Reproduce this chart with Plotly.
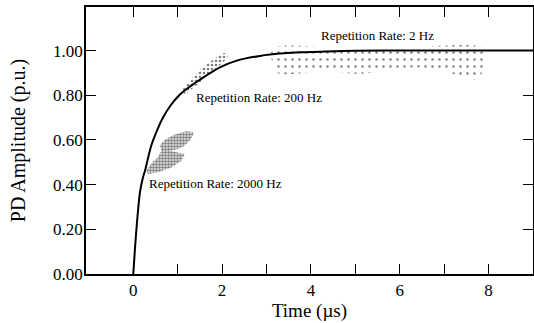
import plotly.graph_objects as go

# Fitted response curve
curve_t = [0, 0.045, 0.106, 0.15, 0.218, 0.265, 0.405, 0.55, 0.669, 0.83, 1.05, 1.2, 1.58, 1.95, 2.33, 2.85, 3.08, 3.75, 4.35, 5.0, 6.0, 7.0, 8.0, 9.0]
curve_y = [0, 0.134, 0.283, 0.365, 0.433, 0.463, 0.575, 0.65, 0.700, 0.752, 0.803, 0.828, 0.880, 0.925, 0.955, 0.976, 0.982, 0.992, 0.996, 0.999, 1.0, 1.0, 1.0, 1.0]

# 2000 Hz scatter region outline
r2000_t = [1.367, 1.306, 1.158, 1.007, 0.820, 1.007, 1.158, 1.081, 0.856, 0.556, 0.331, 0.293, 0.405, 0.556, 0.631, 0.595, 0.707, 0.932, 1.194, 1.367]
r2000_y = [0.634, 0.605, 0.575, 0.560, 0.552, 0.545, 0.537, 0.507, 0.477, 0.455, 0.448, 0.463, 0.493, 0.522, 0.552, 0.575, 0.600, 0.624, 0.639, 0.634]

# 200 Hz scatter region outline
r200_t = [2.104, 2.117, 1.802, 1.502, 1.277, 1.164, 1.113, 1.277, 1.577, 1.878, 2.027, 2.104]
r200_y = [0.988, 0.970, 0.910, 0.858, 0.821, 0.806, 0.821, 0.866, 0.925, 0.970, 0.988, 0.988]

# 2 Hz scatter region outline
r2_t = [3.146, 4.43, 6.007, 7.92, 7.92, 7.76, 7.40, 7.02, 6.23, 5.10, 4.36, 3.24, 3.13, 3.146]
r2_y = [1.008, 1.015, 1.013, 1.009, 0.956, 0.875, 0.879, 0.910, 0.924, 0.896, 0.910, 0.901, 0.946, 1.008]

labels = ["Repetition Rate: 2 Hz", "Repetition Rate: 200 Hz", "Repetition Rate: 2000 Hz"]
label_t = [5.49, 2.83, 1.85]
label_y = [1.067, 0.79, 0.404]

x_ticks = [0, 1, 2, 3, 4, 5, 6, 7, 8]
x_ticktext = ["0", "", "2", "", "4", "", "6", "", "8"]
y_ticks = [0, 0.2, 0.4, 0.6, 0.8, 1.0]

FONT = "Liberation Serif"

fig = go.Figure()

fig.add_trace(go.Scatter(
    x=r2_t, y=r2_y, mode="lines", fill="toself", line=dict(width=0, color="rgba(0,0,0,0)"),
    line_shape="spline",
    fillpattern=dict(shape=".", fgcolor="#000", bgcolor="white", size=7, solidity=0.1),
    hoverinfo="skip", showlegend=False))

fig.add_trace(go.Scatter(
    x=r200_t, y=r200_y, mode="lines", fill="toself", line=dict(width=0, color="rgba(0,0,0,0)"),
    line_shape="spline",
    fillpattern=dict(shape=".", fgcolor="#000", bgcolor="white", size=4, solidity=0.33),
    hoverinfo="skip", showlegend=False))

fig.add_trace(go.Scatter(
    x=r2000_t, y=r2000_y, mode="lines", fill="toself", line=dict(width=0, color="rgba(0,0,0,0)"),
    fillpattern=dict(shape=".", fgcolor="#111", bgcolor="#e8e8e8", size=3, solidity=0.55),
    hoverinfo="skip", showlegend=False))

fig.add_trace(go.Scatter(
    x=curve_t, y=curve_y, mode="lines", line=dict(color="black", width=2, shape="spline", smoothing=1.0),
    hoverinfo="skip", showlegend=False))

for txt, tx, ty in zip(labels, label_t, label_y):
    fig.add_annotation(x=tx, y=ty, text=txt, showarrow=False,
                       font=dict(family=FONT, size=13, color="black"))

axis_common = dict(showline=True, linecolor="black", linewidth=1.5, mirror="ticks",
                   ticks="inside", ticklen=10, tickwidth=1.2, tickcolor="black",
                   showgrid=False, zeroline=False, automargin=False,
                   tickfont=dict(family=FONT, size=17, color="black"))

fig.update_xaxes(range=[-1.065, 9.0], tickmode="array", tickvals=x_ticks, ticktext=x_ticktext,
                 title=dict(text="Time (µs)", font=dict(family=FONT, size=19, color="black"), standoff=3),
                 **axis_common)
fig.update_yaxes(range=[0, 1.195], tickmode="array", tickvals=y_ticks, tickformat=".2f",
                 ticklabelstandoff=-2,
                 title=dict(text="PD Amplitude (p.u.)", font=dict(family=FONT, size=20, color="black"), standoff=22),
                 **axis_common)

fig.update_layout(width=534, height=323, margin=dict(l=86, r=1, t=7, b=49),
                  paper_bgcolor="white", plot_bgcolor="white", showlegend=False)

fig.write_html("out.html", config={"displayModeBar": False},
               post_script="document.body.style.margin='0';document.body.style.overflow='hidden';")
